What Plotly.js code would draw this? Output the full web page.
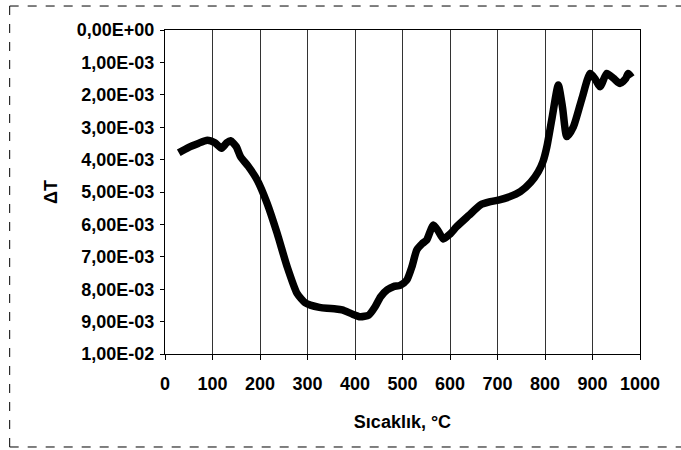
<!DOCTYPE html>
<html>
<head>
<meta charset="utf-8">
<script src="https://cdn.plot.ly/plotly-3.0.1.min.js"></script>
<style>html,body{margin:0;padding:0;background:#fff;overflow:hidden;}#chart{width:681px;height:450px;}</style>
</head>
<body>
<div id="chart"></div>
<script>
// Temperature (°C)
const temperature = [29, 50, 70, 89, 105, 119, 130, 138, 150, 159, 175, 194, 215, 236, 257, 278, 295, 306, 325, 341, 360, 373, 395, 411, 429, 442, 454, 468, 481, 495, 509, 520, 530, 541, 551, 560, 565, 575, 586, 600, 614, 640, 664, 685, 702, 725, 748, 770, 786, 796, 804, 815, 828, 837, 846, 860, 878, 895, 905, 916, 930, 945, 958, 970, 975, 982];
// Delta T (×1e-3)
const deltaT_e3 = [3.79, 3.62, 3.50, 3.40, 3.48, 3.65, 3.48, 3.42, 3.60, 3.91, 4.20, 4.63, 5.35, 6.27, 7.30, 8.13, 8.42, 8.49, 8.56, 8.59, 8.61, 8.64, 8.77, 8.85, 8.80, 8.55, 8.23, 8.02, 7.92, 7.88, 7.72, 7.30, 6.79, 6.60, 6.48, 6.15, 6.02, 6.20, 6.45, 6.30, 6.07, 5.72, 5.40, 5.30, 5.25, 5.15, 4.99, 4.70, 4.37, 4.05, 3.60, 2.70, 1.70, 2.40, 3.29, 2.98, 2.10, 1.34, 1.50, 1.75, 1.34, 1.50, 1.65, 1.50, 1.34, 1.46];
const yTickVals = [0, 0.001, 0.002, 0.003, 0.004, 0.005, 0.006, 0.007, 0.008, 0.009, 0.01];
const yTickText = ["0,00E+00", "1,00E-03", "2,00E-03", "3,00E-03", "4,00E-03", "5,00E-03", "6,00E-03", "7,00E-03", "8,00E-03", "9,00E-03", "1,00E-02"];
const xTickVals = [0, 100, 200, 300, 400, 500, 600, 700, 800, 900, 1000];

const deltaT = deltaT_e3.map(v => v / 1000);
const FONT = "Liberation Sans, Arial, sans-serif";

const trace = {
  x: temperature,
  y: deltaT,
  type: "scatter",
  mode: "lines",
  line: {color: "#000", width: 7.5, shape: "spline", smoothing: 0.6},
  hoverinfo: "skip"
};

const frameLine = {color: "#000", width: 1, dash: "dash"};
const layout = {
  width: 681, height: 450,
  margin: {l: 165, r: 41, t: 30, b: 96},
  paper_bgcolor: "#fff", plot_bgcolor: "#fff",
  showlegend: false,
  font: {family: FONT, color: "#000"},
  xaxis: {
    range: [0, 1000],
    tickvals: xTickVals,
    ticks: "outside", ticklen: 5, tickcolor: "#000", tickwidth: 1,
    ticklabelstandoff: 8,
    showgrid: true, gridcolor: "#333", gridwidth: 1,
    zeroline: false,
    showline: true, linecolor: "#000", linewidth: 1, mirror: true,
    tickfont: {family: FONT, size: 18, weight: "bold", color: "#000"},
    title: {text: "Sıcaklık, °C", font: {family: FONT, size: 18, weight: "bold", color: "#000"}, standoff: 22}
  },
  yaxis: {
    range: [0.01, 0],
    tickvals: yTickVals, ticktext: yTickText,
    ticks: "outside", ticklen: 4, tickcolor: "#000", tickwidth: 1,
    ticklabelstandoff: 2,
    showgrid: false, zeroline: false,
    showline: true, linecolor: "#000", linewidth: 1, mirror: true,
    tickfont: {family: FONT, size: 18, weight: "bold", color: "#000"},
    title: {text: "ΔT", font: {family: FONT, size: 18, weight: "bold", color: "#000"}, standoff: 14}
  },
  shapes: [
    {type: "line", xref: "paper", yref: "paper", x0: -0.327, x1: 1.2, y0: 1.074, y1: 1.074, line: frameLine, layer: "below"},
    {type: "line", xref: "paper", yref: "paper", x0: -0.327, x1: -0.327, y0: -0.287, y1: 1.074, line: frameLine, layer: "below"},
    {type: "line", xref: "paper", yref: "paper", x0: -0.327, x1: 1.2, y0: -0.287, y1: -0.287, line: frameLine, layer: "below"}
  ]
};

Plotly.newPlot("chart", [trace], layout, {staticPlot: true, displayModeBar: false});
</script>
</body>
</html>
